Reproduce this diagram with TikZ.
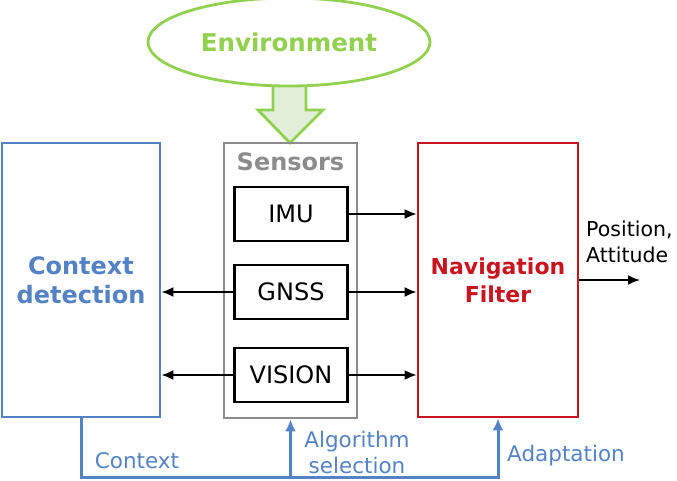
\documentclass[tikz,border=0pt]{standalone}
\usepackage{fontspec}
\setmainfont{DejaVu Sans}
\usetikzlibrary{shapes.geometric,arrows.meta}
\definecolor{envgreen}{RGB}{146,208,80}
\definecolor{envfill}{RGB}{226,239,217}
\definecolor{ctxblue}{RGB}{84,130,196}
\definecolor{navred}{RGB}{200,20,30}
\definecolor{sensgray}{RGB}{140,140,140}
\begin{document}
\begin{tikzpicture}[x=1pt,y=-1pt,
  box/.style={draw,line width=2.8pt,inner sep=0pt},
  sensorbox/.style={box,black,minimum width=113,minimum height=54,
    font=\fontsize{24}{28}\selectfont},
  link/.style={-{Latex[length=12pt,width=10pt]},line width=1.8pt},
  feedback/.style={ctxblue,line width=3pt},
  fbarrow/.style={feedback,-{Latex[length=12pt,width=11pt]}},
  lbl/.style={ctxblue,font=\fontsize{21.5}{26}\selectfont,align=center,inner sep=0pt}]
\useasboundingbox (0,0) rectangle (677,481);
% environment and its block arrow
\fill[envfill,draw=envgreen,line width=2.8pt]
  (273,80) -- (273,110) -- (258,110) -- (290,143) -- (323,110) -- (306,110) -- (306,80) -- cycle;
\node[ellipse,draw=envgreen,fill=white,line width=2.8pt,minimum width=282,minimum height=88,
  text=envgreen,font=\fontsize{24.5}{28}\bfseries] (env) at (289,42) {Environment};
% blocks
\node[box,ctxblue,minimum width=158,minimum height=274,align=center,
  font=\fontsize{24}{29}\bfseries] (ctx) at (81,280) {Context\\detection};
\node[box,sensgray,minimum width=133,minimum height=275] (sens) at (290.5,280.5) {};
\node[sensgray,font=\fontsize{24}{28}\bfseries] (senslbl) at (290.5,162) {Sensors};
\node[sensorbox] (imu) at (291,214) {IMU};
\node[sensorbox] (gnss) at (291,292) {GNSS};
\node[sensorbox] (vision) at (291,375) {VISION};
\node[box,navred,minimum width=160,minimum height=274,align=center,
  font=\fontsize{22}{28}\bfseries] (nav) at (498,280) {Navigation\\Filter};
% sensor links
\draw[link] (imu.east) -- (imu.east -| nav.west);
\draw[link] (gnss.east) -- (gnss.east -| nav.west);
\draw[link] (vision.east) -- (vision.east -| nav.west);
\draw[link] (gnss.west) -- (gnss.west -| ctx.east);
\draw[link] (vision.west) -- (vision.west -| ctx.east);
% output
\coordinate (out) at (640,280);
\draw[link] (nav.east |- out) -- (out);
\node[anchor=west,align=left,inner sep=0pt,font=\fontsize{20.5}{26}\selectfont]
  (outlbl) at (586,242) {Position,\\Attitude};
% feedback
\coordinate (fb) at (0,477);
\draw[fbarrow] (ctx.south) |- (fb -| nav.south) -- (nav.south);
\draw[fbarrow] (fb -| sens.south) -- (sens.south);
\node[lbl] (ctxfb) at (137,461) {Context};
\node[lbl] (algfb) at (357,452) {Algorithm\\selection};
\node[lbl] (adafb) at (566,456) {Adaptation};
\end{tikzpicture}
\end{document}
